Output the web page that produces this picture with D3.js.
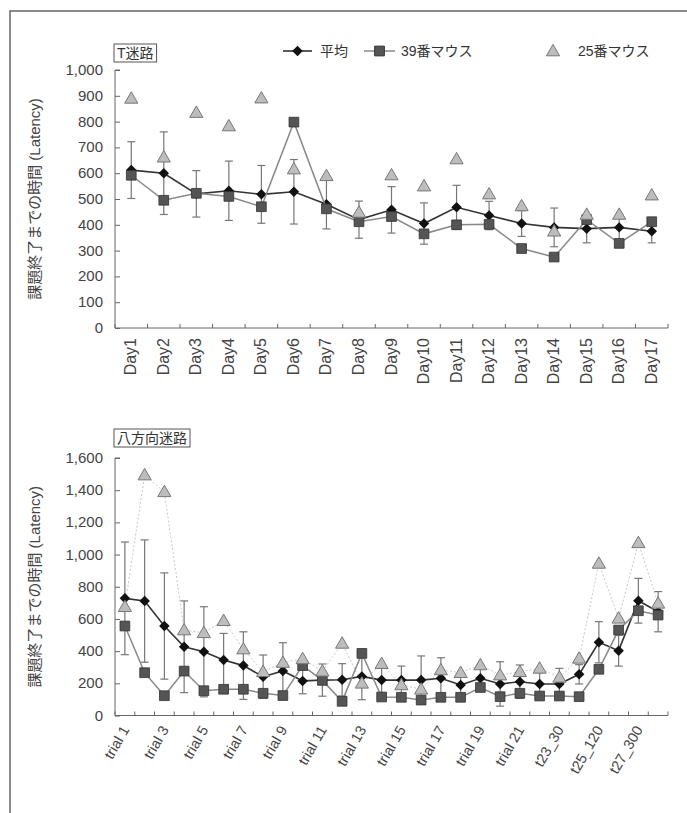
<!DOCTYPE html>
<html>
<head>
<meta charset="utf-8">
<script src="https://cdn.jsdelivr.net/npm/d3@7"></script>
<style>
  body { margin: 0; background: #fff; }
  #chart { width: 687px; height: 813px; }
  text { font-family: "Liberation Sans", Arial, "Noto Sans CJK JP", sans-serif; fill: #333; }
  .axis path, .axis line { stroke: #666; }
</style>
</head>
<body>
<div id="chart"></div>
<script>
// T-maze, per day
const days = ["Day1","Day2","Day3","Day4","Day5","Day6","Day7","Day8","Day9","Day10","Day11","Day12","Day13","Day14","Day15","Day16","Day17"];
const tAvg   = [612, 600, 520, 532, 518, 528, 480, 420, 458, 405, 468, 436, 405, 390, 385, 390, 375];
const tAvgSd = [110, 160, 90, 115, 112, 125, 96, 72, 90, 80, 85, 55, 50, 75, 55, 50, 45];
const t39    = [592, 495, 522, 510, 470, 798, 462, 412, 432, 365, 400, 402, 308, 275, 420, 328, 412];
const t25    = [890, 662, 835, 783, 891, 616, 590, 448, 593, 550, 655, 519, 473, 375, 440, 440, 515];
const tTicks = [0, 100, 200, 300, 400, 500, 600, 700, 800, 900, 1000];

// radial maze, per trial
const trials = ["trial 1","trial 2","trial 3","trial 4","trial 5","trial 6","trial 7","trial 8","trial 9","trial 10",
  "trial 11","trial 12","trial 13","trial 14","trial 15","trial 16","trial 17","trial 18","trial 19","trial 20",
  "trial 21","trial 22","t23_30","t24","t25_120","t26","t27_300","t28"];
const bAvg   = [728, 711, 556, 427, 396, 345, 310, 241, 277, 215, 220, 222, 243, 220, 220, 220, 231, 190, 231, 196, 210, 196, 196, 256, 455, 403, 713, 645];
const bAvgSd = [350, 380, 330, 285, 280, 165, 210, 135, 175, 80, 100, 100, 145, 90, 87, 150, 128, 70, 80, 138, 104, 70, 97, 60, 128, 96, 139, 125];
const b39    = [556, 266, 123, 276, 154, 163, 163, 138, 124, 310, 218, 88, 386, 115, 113, 96, 113, 113, 174, 117, 138, 121, 121, 117, 287, 531, 651, 624];
const b25    = [676, 1494, 1390, 531, 514, 589, 413, 272, 329, 352, 275, 448, 200, 322, 190, 163, 283, 266, 314, 251, 272, 293, 237, 355, 945, 604, 1073, 697];
const bTicks = [0, 200, 400, 600, 800, 1000, 1200, 1400, 1600];

const seriesNames = ["平均", "39番マウス", "25番マウス"];
const yTitle = "課題終了までの時間 (Latency)";

/*
  CANVAS
*/
const width = 687, height = 813;
const svg = d3.select("#chart").append("svg")
    .attr("width", width)
    .attr("height", height);

// scanned frame
svg.append("rect")
    .attr("x", 10).attr("y", 11)
    .attr("width", 720).attr("height", 850)
    .attr("fill", "none")
    .attr("stroke", "#666")
    .attr("stroke-width", 1.5);

const diamond = d3.symbol().type(d3.symbolDiamond2).size(70);
const square = d3.symbol().type(d3.symbolSquare).size(95);
const triangle = d3.symbol().type(d3.symbolTriangle).size(75);

function drawPanel(opt) {
    const g = svg.append("g");

    const x = d3.scaleBand().domain(opt.cats).range([115, 668]);
    const y = d3.scaleLinear().domain([0, opt.max]).range([opt.bottom, opt.top]);
    const cx = function(i) { return x(opt.cats[i]) + x.bandwidth() / 2; };

    /*
      AXES
    */
    const yAxis = g.append("g")
        .attr("class", "axis")
        .attr("transform", "translate(115,0)")
        .call(d3.axisRight(y).tickValues(opt.ticks).tickSize(5).tickFormat(""));
    yAxis.select(".domain").attr("d", `M5,${opt.top}H0V${opt.bottom}`);

    g.selectAll(".ylab")
        .data(opt.ticks)
        .enter()
        .append("text")
        .attr("x", 103)
        .attr("y", function(d) { return y(d) + 5; })
        .attr("text-anchor", "end")
        .style("font-size", "15px")
        .style("fill", "#444")
        .text(d3.format(","));

    g.append("line")
        .attr("x1", 115).attr("x2", 668)
        .attr("y1", opt.bottom).attr("y2", opt.bottom)
        .attr("stroke", "#666");

    g.selectAll(".xtick")
        .data(d3.range(opt.cats.length + 1))
        .enter()
        .append("line")
        .attr("x1", function(i) { return 115 + i * x.step(); })
        .attr("x2", function(i) { return 115 + i * x.step(); })
        .attr("y1", opt.bottom)
        .attr("y2", opt.bottom - 4)
        .attr("stroke", "#666");

    g.selectAll(".xlab")
        .data(opt.cats.filter(function(d, i) { return i % opt.every === 0; }))
        .enter()
        .append("text")
        .attr("transform", function(d) {
            return `translate(${x(d) + x.bandwidth() / 2 + 5},${opt.bottom + opt.labelGap}) rotate(${opt.angle})`;
        })
        .attr("text-anchor", "end")
        .style("font-size", opt.labelSize)
        .style("fill", "#444")
        .text(function(d) { return d; });

    g.append("text")
        .attr("transform", `translate(40,${(opt.top + opt.bottom) / 2}) rotate(-90)`)
        .attr("text-anchor", "middle")
        .style("font-size", "15px")
        .style("fill", "#444")
        .text(yTitle);

    // title box
    const tt = g.append("text")
        .attr("x", 117).attr("y", opt.titleY)
        .style("font-size", "14px")
        .style("fill", "#333")
        .text(opt.title);
    const bb = tt.node().getBBox();
    g.append("rect")
        .attr("x", bb.x - 3).attr("y", bb.y - 1)
        .attr("width", bb.width + 6).attr("height", bb.height + 2)
        .attr("fill", "none")
        .attr("stroke", "#555");

    /*
      SERIES
    */
    const idx = d3.range(opt.cats.length);
    const line = function(vals) {
        return d3.line().x(function(i) { return cx(i); }).y(function(i) { return y(vals[i]); })(idx);
    };

    // error bars of the mean
    const err = g.append("g").attr("stroke", "#777").attr("stroke-width", 1.2);
    idx.forEach(function(i) {
        const hi = y(opt.avg[i] + opt.sd[i]);
        const lo = y(Math.max(0, opt.avg[i] - opt.sd[i]));
        err.append("line").attr("x1", cx(i)).attr("x2", cx(i)).attr("y1", hi).attr("y2", lo);
        err.append("line").attr("x1", cx(i) - 4).attr("x2", cx(i) + 4).attr("y1", hi).attr("y2", hi);
        err.append("line").attr("x1", cx(i) - 4).attr("x2", cx(i) + 4).attr("y1", lo).attr("y2", lo);
    });

    if (opt.triLine) {
        g.append("path")
            .attr("d", line(opt.s25))
            .attr("fill", "none")
            .attr("stroke", "#c8c8c8")
            .attr("stroke-width", 1)
            .attr("stroke-dasharray", "2,2");
    }

    g.append("path")
        .attr("d", line(opt.avg))
        .attr("fill", "none")
        .attr("stroke", "#333")
        .attr("stroke-width", 1.6);

    g.selectAll(".avg")
        .data(idx)
        .enter()
        .append("path")
        .attr("d", diamond)
        .attr("transform", function(i) { return `translate(${cx(i)},${y(opt.avg[i])})`; })
        .attr("fill", "#111");

    g.append("path")
        .attr("d", line(opt.s39))
        .attr("fill", "none")
        .attr("stroke", "#888")
        .attr("stroke-width", 1.5);

    g.selectAll(".m39")
        .data(idx)
        .enter()
        .append("path")
        .attr("d", square)
        .attr("transform", function(i) { return `translate(${cx(i)},${y(opt.s39[i])})`; })
        .attr("fill", "#555")
        .attr("stroke", "#333")
        .attr("stroke-width", 0.8);

    g.selectAll(".m25")
        .data(idx)
        .enter()
        .append("path")
        .attr("d", triangle)
        .attr("transform", function(i) { return `translate(${cx(i)},${y(opt.s25[i]) + 1})`; })
        .attr("fill", "#bdbdbd")
        .attr("stroke", "#777")
        .attr("stroke-width", 1);
}

drawPanel({
    cats: days, avg: tAvg, sd: tAvgSd, s39: t39, s25: t25,
    max: 1000, ticks: tTicks, top: 70, bottom: 328,
    every: 1, angle: -90, labelGap: 10, labelSize: "16px",
    title: "T迷路", titleY: 58, triLine: false
});

drawPanel({
    cats: trials, avg: bAvg, sd: bAvgSd, s39: b39, s25: b25,
    max: 1600, ticks: bTicks, top: 458, bottom: 715.5,
    every: 2, angle: -60, labelGap: 14, labelSize: "14.5px",
    title: "八方向迷路", titleY: 443, triLine: true
});

/*
  LEGEND
*/
const legend = svg.append("g").attr("transform", "translate(0,51)");
legend.append("line").attr("x1", 283).attr("x2", 312).attr("stroke", "#333").attr("stroke-width", 1.6);
legend.append("path").attr("d", diamond).attr("transform", "translate(297.5,0)").attr("fill", "#111");
legend.append("text").attr("x", 320).attr("y", 5).style("font-size", "14px").text(seriesNames[0]);

legend.append("line").attr("x1", 364).attr("x2", 395).attr("stroke", "#888").attr("stroke-width", 1.5);
legend.append("path").attr("d", square).attr("transform", "translate(379.5,0)").attr("fill", "#555").attr("stroke", "#333");
legend.append("text").attr("x", 401).attr("y", 5).style("font-size", "14px").text(seriesNames[1]);

legend.append("path").attr("d", triangle).attr("transform", "translate(553,1)").attr("fill", "#bdbdbd").attr("stroke", "#777");
legend.append("text").attr("x", 578).attr("y", 5).style("font-size", "14px").text(seriesNames[2]);
</script>
</body>
</html>
